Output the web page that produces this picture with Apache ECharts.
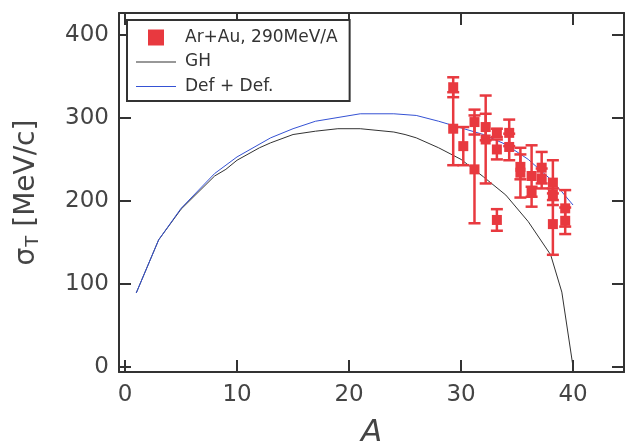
<!DOCTYPE html>
<html>
<head>
<meta charset="utf-8">
<title>Transverse momentum width vs fragment mass</title>
<script src="https://cdn.jsdelivr.net/npm/echarts@6/dist/echarts.min.js"></script>
<style>
  html, body { margin: 0; padding: 0; background: #fff; }
  #chart { width: 627px; height: 443px; }
</style>
</head>
<body>
<div id="chart"></div>
<script>
// Measured widths: fragment mass A, sigma_T (MeV/c) and its error
const expA     = [29.3, 29.3, 30.2, 31.2, 31.2, 32.2, 32.2, 33.2, 33.2, 33.2, 34.3, 34.3, 35.3, 35.3, 36.3, 36.3, 37.2, 37.2, 38.2, 38.2, 38.2, 39.3, 39.3];
const expSigma = [337,  287,  266,  295,  238,  289,  274,  282,  262,  177,  282,  265,  241,  234,  230,  211,  240,  227,  222,  208,  172,  191,  176];
const expErr   = [12,   44,   23,   15,   65,   16,   53,   5,    12,   13,   16,   16,   15,   30,   37,   6,    19,   12,   27,   7,    37,   22,   16];

// Goldhaber model curve
const ghA     = [1,  3,   5,   8,   9,   10,  12,  13,  15,  17,  19,  21,  24,  25,  26,  28,  30,  32,  34,  36,  38,  39, 40];
const ghSigma = [89, 153, 190, 230, 238, 249, 264, 270, 280, 284, 287, 287, 283, 280, 276, 264, 250, 229, 207, 175, 135, 90, 0];

// Deformed projectile + deformed target curve
const defA     = [1,  3,   5,   8,   10,  13,  15,  17,  21,  24,  26,  28,  30,  32,  34,  36,  37,  38,  39,  40];
const defSigma = [89, 153, 191, 233, 253, 276, 287, 296, 305, 305, 303, 296, 288, 280, 268, 250, 238, 226, 211, 195];

// Tick values shown on the axes
const xTicks = [0, 10, 20, 30, 40];
const yTicks = [0, 100, 200, 300, 400];

const names = ['Ar+Au, 290MeV/A', 'GH', 'Def + Def.'];

const FONT = 'DejaVu Sans';
const INK = '#333';
const RED = '#e8393f';
const BLUE = '#3552d4';
const X_RANGE = [-0.54, 44.55];
const Y_RANGE = [-6.3, 426.5];

const pts = expA.map((a, i) => [a, expSigma[i]]);
const bars = expA.map((a, i) => [a, expSigma[i], expErr[i]]);
const ghLine = ghA.map((a, i) => [a, ghSigma[i]]);
const defLine = defA.map((a, i) => [a, defSigma[i]]);

// legend swatches: a filled square and a thin horizontal stroke
const SQUARE_ICON = 'path://M0,0H10V10H0Z';
const LINE_ICON = 'path://M0,0H40V1H0Z';

function frameAxis(base) {
  return Object.assign({
    type: 'value',
    min: X_RANGE[0],
    max: X_RANGE[1],
    splitLine: { show: false },
    axisLine: { show: true, onZero: false, lineStyle: { color: INK, width: 2 } },
    axisTick: { show: true, inside: true, length: 12, lineStyle: { color: INK, width: 2 }, customValues: xTicks },
    axisLabel: { show: false, customValues: xTicks }
  }, base);
}

const chart = echarts.init(document.getElementById('chart'), null, { renderer: 'canvas' });

chart.setOption({
  backgroundColor: '#fff',
  animation: false,
  grid: { left: 119, right: 3, top: 13, bottom: 71, containLabel: false, outerBoundsMode: 'none' },
  legend: {
    orient: 'vertical',
    left: 127,
    top: 20,
    padding: [9, 12, 6, 9],
    itemGap: 7.5,
    itemWidth: 40,
    itemHeight: 16,
    symbolKeepAspect: true,
    borderColor: INK,
    borderWidth: 2,
    borderRadius: 0,
    backgroundColor: '#fff',
    textStyle: { fontFamily: FONT, fontSize: 17, color: INK, padding: [0, 0, 0, 4] },
    data: [
      { name: names[0], icon: SQUARE_ICON },
      { name: names[1], icon: LINE_ICON },
      { name: names[2], icon: LINE_ICON }
    ]
  },
  xAxis: [
    frameAxis({
      position: 'bottom',
      name: 'A',
      nameLocation: 'middle',
      nameGap: 45,
      nameTextStyle: { fontFamily: FONT, fontSize: 31, fontStyle: 'italic', color: '#444' },
      axisLabel: { show: true, customValues: xTicks, margin: 12, fontFamily: FONT, fontSize: 23, color: '#444' }
    }),
    frameAxis({ position: 'top' })
  ],
  yAxis: [
    frameAxis({
      position: 'left',
      min: Y_RANGE[0],
      max: Y_RANGE[1],
      axisTick: { show: true, inside: true, length: 12, lineStyle: { color: INK, width: 2 }, customValues: yTicks },
      axisLabel: { show: true, customValues: yTicks, margin: 10, fontFamily: FONT, fontSize: 23, color: '#444' },
      name: '{s|σ}{t|T}{s| [MeV/c]}',
      nameLocation: 'middle',
      nameGap: 77,
      nameTextStyle: {
        color: '#444',
        rich: {
          s: { fontFamily: FONT, fontSize: 28, color: '#444' },
          t: { fontFamily: FONT, fontSize: 18, color: '#444', padding: [12, 0, 0, 1] }
        }
      }
    }),
    frameAxis({
      position: 'right',
      min: Y_RANGE[0],
      max: Y_RANGE[1],
      axisTick: { show: true, inside: true, length: 12, lineStyle: { color: INK, width: 2 }, customValues: yTicks },
      axisLabel: { show: false, customValues: yTicks }
    })
  ],
  series: [
    {
      name: names[1],
      type: 'line',
      data: ghLine,
      symbol: 'none',
      showSymbol: false,
      smooth: false,
      lineStyle: { color: '#333', width: 1 },
      itemStyle: { color: '#333' },
      z: 2
    },
    {
      name: names[2],
      type: 'line',
      data: defLine,
      symbol: 'none',
      showSymbol: false,
      smooth: false,
      lineStyle: { color: BLUE, width: 1 },
      itemStyle: { color: BLUE },
      z: 3
    },
    {
      name: 'errors',
      type: 'custom',
      data: bars,
      z: 4,
      renderItem: function (params, api) {
        const a = api.value(0), s = api.value(1), e = api.value(2);
        const hi = api.coord([a, s + e]);
        const lo = api.coord([a, s - e]);
        const hw = 6;
        const st = { stroke: RED, lineWidth: 2.5 };
        return {
          type: 'group',
          children: [
            { type: 'line', shape: { x1: hi[0], y1: hi[1], x2: lo[0], y2: lo[1] }, style: st },
            { type: 'line', shape: { x1: hi[0] - hw, y1: hi[1], x2: hi[0] + hw, y2: hi[1] }, style: st },
            { type: 'line', shape: { x1: lo[0] - hw, y1: lo[1], x2: lo[0] + hw, y2: lo[1] }, style: st }
          ]
        };
      }
    },
    {
      name: names[0],
      type: 'scatter',
      data: pts,
      symbol: 'rect',
      symbolSize: 10,
      itemStyle: { color: RED, opacity: 1 },
      z: 5
    }
  ]
});
</script>
</body>
</html>
